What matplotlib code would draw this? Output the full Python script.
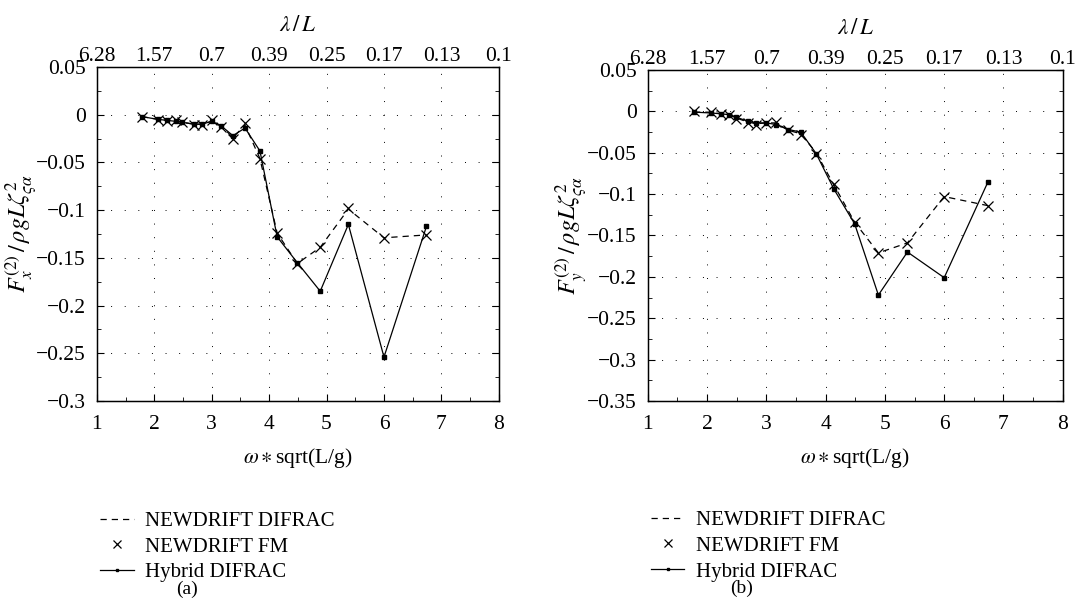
#!/usr/bin/env python3
"""Second-order drift force comparison, two panels (Fx, Fy)."""

import matplotlib

matplotlib.use("Agg")
import matplotlib.pyplot as plt
from matplotlib.ticker import FuncFormatter, MultipleLocator

plt.rcParams["font.family"] = ["Liberation Serif", "DejaVu Serif"]
plt.rcParams["mathtext.fontset"] = "stix"

# non-dimensional frequency omega*sqrt(L/g)
freq = [1.78, 2.07, 2.23, 2.37, 2.49, 2.69, 2.83, 3.0, 3.17, 3.37, 3.58,
        3.84, 4.14, 4.49, 4.89, 5.38, 6.0, 6.74]

# panel (a): Fx
fx_hybrid = [-0.002, -0.005, -0.006, -0.007, -0.008, -0.010, -0.010, -0.007,
             -0.012, -0.022, -0.014, -0.038, -0.128, -0.155, -0.185, -0.115,
             -0.254, -0.117]
fx_difrac = [-0.002, -0.005, -0.006, -0.006, -0.008, -0.010, -0.010, -0.007,
             -0.012, -0.024, -0.011, -0.046, -0.124, -0.156, -0.139, -0.099,
             -0.129, -0.126]
fx_fm = [-0.002, -0.006, -0.007, -0.006, -0.008, -0.011, -0.011, -0.006,
         -0.013, -0.026, -0.009, -0.046, -0.124, -0.156, -0.139, -0.098,
         -0.129, -0.126]

# panel (b): Fy
fy_hybrid = [-0.001, -0.002, -0.003, -0.004, -0.007, -0.012, -0.014, -0.014,
             -0.016, -0.022, -0.025, -0.051, -0.094, -0.136, -0.222, -0.170,
             -0.201, -0.085]
fy_difrac = [-0.001, -0.001, -0.003, -0.004, -0.008, -0.013, -0.015, -0.014,
             -0.014, -0.023, -0.027, -0.050, -0.089, -0.134, -0.171, -0.159,
             -0.103, -0.114]
fy_fm = [0.0, -0.001, -0.003, -0.005, -0.009, -0.014, -0.017, -0.014,
         -0.013, -0.022, -0.028, -0.052, -0.088, -0.134, -0.171, -0.159,
         -0.103, -0.114]

x_ticks = [1, 2, 3, 4, 5, 6, 7, 8]
lam_labels = ["6.28", "1.57", "0.7", "0.39", "0.25", "0.17", "0.13", "0.1"]

FS = 15.5


def fmt(v, _pos):
    s = "%g" % round(v, 4)
    return s.replace("-", "\u2212")


def panel(fig, rect, hybrid, difrac, fm, ylo, ylabel, ylab_x, tag):
    ax = fig.add_axes(rect)
    ax.plot(freq, difrac, color="black", lw=0.9, ls=(0, (5, 4)),
            label="NEWDRIFT DIFRAC")
    ax.plot(freq, fm, ls="none", marker="x", ms=7, mew=0.9, color="black",
            label="NEWDRIFT FM")
    ax.plot(freq, hybrid, color="black", lw=0.9, marker="s", ms=2.2,
            label="Hybrid DIFRAC")

    ax.set_xlim(1, 8)
    ax.set_ylim(ylo, 0.05)
    ax.xaxis.set_major_locator(MultipleLocator(1))
    ax.xaxis.set_minor_locator(MultipleLocator(0.5))
    ax.yaxis.set_major_locator(MultipleLocator(0.05))
    ax.yaxis.set_minor_locator(MultipleLocator(0.025))
    ax.yaxis.set_major_formatter(FuncFormatter(fmt))
    ax.tick_params(which="both", direction="in", top=True, right=True,
                   labelsize=FS)
    ax.tick_params(axis="x", pad=10)
    ax.tick_params(axis="y", pad=8)
    ax.tick_params(which="major", length=5)
    ax.tick_params(which="minor", length=3)
    ax.grid(True, which="major", color="black", lw=0.7, ls=(0, (1, 13)))
    for sp in ax.spines.values():
        sp.set_linewidth(1.0)

    ax.set_xlabel(r"$\omega\ast$sqrt(L/g)", fontsize=FS, labelpad=9)
    ax.set_ylabel(ylabel, fontsize=FS + 2)
    ax.yaxis.set_label_coords(ylab_x, 0.5)

    top = ax.twiny()
    top.set_xlim(ax.get_xlim())
    top.set_xticks(x_ticks)
    top.set_xticklabels(lam_labels)
    top.tick_params(direction="in", length=0, labelsize=FS, pad=0.5)
    top.set_xlabel(r"$\lambda\,/\,L$", fontsize=FS + 1, labelpad=12)

    ax.legend(loc="upper left", bbox_to_anchor=(-0.012, -0.305),
              frameon=False, fontsize=15, handlelength=1.6,
              handletextpad=0.55, labelspacing=0.3, borderaxespad=0,
              markerscale=0.75)
    ax.text(0.225, -0.565, tag, transform=ax.transAxes, fontsize=14,
            ha="center", va="center")
    return ax


fig = plt.figure(figsize=(10.76, 6.03), dpi=100)
panel(fig, [0.090, 0.335, 0.3736, 0.554], fx_hybrid, fx_difrac, fx_fm,
      -0.3, r"$F_x^{(2)}\,/\,\rho g L \zeta_{\varsigma\alpha}^{2}$", -0.142,
      "(a)")
panel(fig, [0.602, 0.335, 0.3857, 0.549], fy_hybrid, fy_difrac, fy_fm,
      -0.35, r"$F_y^{(2)}\,/\,\rho g L \zeta_{\varsigma\alpha}^{2}$", -0.14,
      "(b)")
fig.savefig("out.png", dpi=100)
